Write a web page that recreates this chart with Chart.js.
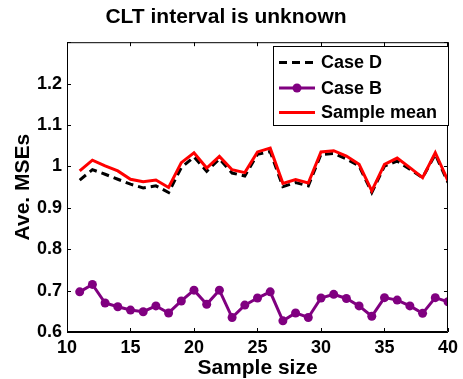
<!DOCTYPE html>
<html>
<head>
<meta charset="utf-8">
<script src="https://cdn.jsdelivr.net/npm/chart.js@4"></script>
<style>
  body { margin: 0; background: #fff; }
  canvas { display: block; }
</style>
</head>
<body>
<canvas id="chart" width="463" height="379"></canvas>
<script>
// ── Data ──

const SAMPLE_SIZES = [11, 12, 13, 14, 15, 16, 17, 18, 19, 20, 21, 22, 23, 24, 25,
                      26, 27, 28, 29, 30, 31, 32, 33, 34, 35, 36, 37, 38, 39, 40];

const CASE_D = [0.967, 0.992, 0.981, 0.969, 0.957, 0.948, 0.953, 0.937, 0.997, 1.023,
                0.988, 1.018, 0.984, 0.977, 1.029, 1.036, 0.951, 0.961, 0.953, 1.029,
                1.031, 1.018, 1.001, 0.937, 1.001, 1.013, 0.993, 0.973, 1.029, 0.961];

const CASE_B = [0.697, 0.715, 0.670, 0.661, 0.653, 0.649, 0.663, 0.646, 0.675, 0.701,
                0.667, 0.701, 0.635, 0.665, 0.682, 0.697, 0.627, 0.646, 0.635, 0.682,
                0.691, 0.681, 0.663, 0.638, 0.683, 0.677, 0.663, 0.645, 0.683, 0.673];

const SAMPLE_MEAN = [0.989, 1.015, 1.001, 0.989, 0.969, 0.963, 0.967, 0.949, 1.009, 1.033,
                     0.996, 1.024, 0.992, 0.985, 1.035, 1.044, 0.959, 0.968, 0.960, 1.035,
                     1.038, 1.025, 1.005, 0.941, 1.005, 1.020, 0.997, 0.973, 1.033, 0.965];

const X_TICKS = [10, 15, 20, 25, 30, 35, 40];
const Y_TICKS = [0.6, 0.7, 0.8, 0.9, 1.0, 1.1, 1.2, 1.3];

const FONT = "'Liberation Sans', Arial, Helvetica, sans-serif";
const PURPLE = "#800080";

const toXY = vals => vals.map((v, i) => ({ x: SAMPLE_SIZES[i], y: v }));

// ── Plugins ──

// inward ticks on all four sides + closed box
const boxTicks = {
    id: "boxTicks",
    afterDraw(chart) {
        const { ctx, chartArea: a, scales: { x, y } } = chart;
        ctx.save();
        ctx.strokeStyle = "#000";
        ctx.lineWidth = 1;
        ctx.beginPath();
        ctx.rect(a.left + 0.5, a.top + 0.5, a.right - a.left - 1, a.bottom - a.top - 1);
        X_TICKS.forEach(t => {
            const px = Math.round(x.getPixelForValue(t)) + 0.5;
            ctx.moveTo(px, a.bottom); ctx.lineTo(px, a.bottom - 4);
            ctx.moveTo(px, a.top); ctx.lineTo(px, a.top + 4);
        });
        Y_TICKS.forEach(t => {
            const py = Math.round(y.getPixelForValue(t)) + 0.5;
            ctx.moveTo(a.left, py); ctx.lineTo(a.left + 4, py);
            ctx.moveTo(a.right, py); ctx.lineTo(a.right - 4, py);
        });
        ctx.stroke();
        ctx.restore();
    }
};

// MATLAB style boxed legend in the top right corner
const boxLegend = {
    id: "boxLegend",
    afterDraw(chart) {
        const { ctx } = chart;
        const bx = 273, by = 46, bw = 175, bh = 79;
        const rows = [62.5, 88, 112.5];
        const items = [chart.data.datasets[0], chart.data.datasets[1], chart.data.datasets[2]];
        ctx.save();
        ctx.fillStyle = "#fff";
        ctx.fillRect(bx, by, bw, bh);
        ctx.strokeStyle = "#000";
        ctx.lineWidth = 1;
        ctx.strokeRect(bx + 0.5, by + 0.5, bw, bh);
        items.forEach((ds, i) => {
            const yy = rows[i];
            ctx.strokeStyle = ds.borderColor;
            ctx.lineWidth = ds.borderWidth;
            ctx.setLineDash(ds.borderDash || []);
            ctx.beginPath();
            ctx.moveTo(279, yy); ctx.lineTo(315, yy);
            ctx.stroke();
            ctx.setLineDash([]);
            if (ds.pointRadius > 0) {
                ctx.fillStyle = ds.borderColor;
                ctx.beginPath();
                ctx.arc(297, yy, ds.pointRadius, 0, Math.PI * 2);
                ctx.fill();
            }
            ctx.fillStyle = "#000";
            ctx.font = "bold 18px " + FONT;
            ctx.textBaseline = "middle";
            ctx.fillText(ds.label, 321, yy + 1);
        });
        ctx.restore();
    }
};

// ── Chart ──

new Chart(document.getElementById("chart"), {
    type: "line",
    data: {
        datasets: [
            {
                label: "Case D",
                data: toXY(CASE_D),
                borderColor: "#000",
                borderWidth: 3,
                borderDash: [8, 5],
                pointRadius: 0,
                order: 2,
            },
            {
                label: "Case B",
                data: toXY(CASE_B),
                borderColor: PURPLE,
                backgroundColor: PURPLE,
                borderWidth: 3,
                pointRadius: 4.5,
                pointBackgroundColor: PURPLE,
                pointBorderWidth: 0,
                order: 1,
            },
            {
                label: "Sample mean",
                data: toXY(SAMPLE_MEAN),
                borderColor: "#ff0000",
                borderWidth: 3,
                pointRadius: 0,
                order: 0,
            },
        ],
    },
    options: {
        responsive: false,
        animation: false,
        layout: { padding: { right: 11 } },
        plugins: {
            legend: { display: false },
            tooltip: { enabled: false },
            title: {
                display: true,
                text: "CLT interval is unknown",
                color: "#000",
                font: { family: FONT, size: 21, weight: "bold", lineHeight: 1.2 },
                padding: { top: 5, bottom: 12 },
            },
        },
        scales: {
            x: {
                type: "linear",
                min: 10,
                max: 40,
                grid: { display: false, drawTicks: false },
                border: { display: true, color: "#000" },
                afterBuildTicks: s => { s.ticks = X_TICKS.map(v => ({ value: v })); },
                afterFit: s => { s.height = 47; },
                ticks: {
                    color: "#000",
                    padding: 5,
                    font: { family: FONT, size: 18, weight: "bold" },
                },
                title: {
                    display: true,
                    text: "Sample size",
                    color: "#000",
                    font: { family: FONT, size: 21, weight: "bold", lineHeight: 1 },
                    padding: { top: 0, bottom: 0 },
                },
            },
            y: {
                min: 0.6,
                max: 1.3,
                grid: { display: false, drawTicks: false },
                border: { display: true, color: "#000" },
                afterBuildTicks: s => { s.ticks = Y_TICKS.map(v => ({ value: v })); },
                afterFit: s => { s.width = 67; },
                ticks: {
                    color: "#000",
                    padding: 5,
                    font: { family: FONT, size: 18, weight: "bold" },
                    callback: v => (Math.abs(v - 1.3) < 1e-6 ? "" : String(Math.round(v * 10) / 10)),
                },
                title: {
                    display: true,
                    text: "Ave. MSEs",
                    color: "#000",
                    font: { family: FONT, size: 21, weight: "bold", lineHeight: 1 },
                    padding: { top: 13, bottom: 0 },
                },
            },
        },
    },
    plugins: [boxTicks, boxLegend],
});
</script>
</body>
</html>
